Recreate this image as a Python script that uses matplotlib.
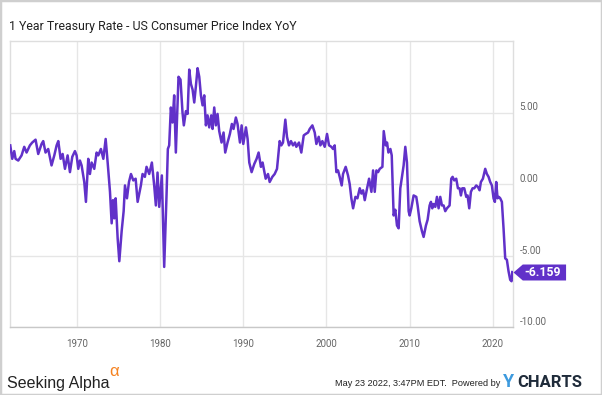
import matplotlib
matplotlib.use("Agg")
import matplotlib.pyplot as plt
from matplotlib.patches import Rectangle

# 1 year treasury rate minus CPI YoY (decimal years)
years = [
    1962.03, 1962.27, 1962.51, 1962.67, 1962.99, 1963.39, 1963.71, 1963.99, 1964.39, 1964.67,
    1965.07, 1965.39, 1965.79, 1965.99, 1966.27, 1966.59, 1966.99, 1967.32, 1967.60, 1967.80,
    1968.08, 1968.32, 1968.60, 1968.92, 1969.20, 1969.48, 1969.80, 1970.00, 1970.20, 1970.40,
    1970.60, 1970.92, 1971.12, 1971.40, 1971.60, 1971.80, 1972.12, 1972.40, 1972.60, 1972.92,
    1973.21, 1973.49, 1973.73, 1974.01, 1974.21, 1974.37, 1974.53, 1974.69, 1974.93, 1975.13,
    1975.41, 1975.65, 1975.81, 1976.05, 1976.29, 1976.53, 1976.81, 1977.09, 1977.33, 1977.72,
    1977.92, 1978.20, 1978.40, 1978.72, 1979.04, 1979.32, 1979.52, 1979.72, 1979.92, 1980.24,
    1980.52, 1980.80, 1980.96, 1981.12, 1981.32, 1981.52, 1981.72, 1981.92, 1982.24, 1982.48,
    1982.72, 1982.88, 1983.13, 1983.33, 1983.53, 1983.73, 1983.93, 1984.13, 1984.33, 1984.53,
    1984.73, 1984.93, 1985.13, 1985.33, 1985.53, 1985.73, 1985.93, 1986.17, 1986.33, 1986.53,
    1986.73, 1986.93, 1987.13, 1987.41, 1987.65, 1987.85, 1988.13, 1988.41, 1988.65, 1988.85,
    1989.13, 1989.33, 1989.62, 1989.82, 1990.02, 1990.34, 1990.54, 1990.74, 1991.02, 1991.34,
    1991.62, 1991.86, 1992.14, 1992.34, 1992.71, 1992.99, 1993.19, 1993.51, 1993.79, 1994.07,
    1994.39, 1994.59, 1994.79, 1995.07, 1995.27, 1995.51, 1995.75, 1995.99, 1996.23, 1996.39,
    1996.71, 1996.99, 1997.28, 1997.52, 1997.80, 1998.00, 1998.32, 1998.60, 1998.80, 1999.08,
    1999.28, 1999.52, 1999.80, 2000.08, 2000.32, 2000.60, 2000.80, 2001.00, 2001.20, 2001.40,
    2001.60, 2001.84, 2002.00, 2002.32, 2002.60, 2002.80, 2003.00, 2003.21, 2003.49, 2003.73,
    2004.01, 2004.21, 2004.41, 2004.61, 2004.89, 2005.13, 2005.41, 2005.61, 2005.81, 2006.01,
    2006.21, 2006.41, 2006.73, 2006.89, 2007.13, 2007.29, 2007.45, 2007.69, 2007.85, 2008.08,
    2008.28, 2008.48, 2008.68, 2008.88, 2009.08, 2009.28, 2009.48, 2009.68, 2009.88, 2010.00,
    2010.20, 2010.48, 2010.80, 2010.96, 2011.20, 2011.48, 2011.68, 2011.96, 2012.16, 2012.40,
    2012.56, 2012.72, 2012.88, 2013.08, 2013.28, 2013.48, 2013.68, 2013.88, 2014.08, 2014.28,
    2014.48, 2014.80, 2015.00, 2015.16, 2015.36, 2015.60, 2015.80, 2016.00, 2016.16, 2016.32,
    2016.56, 2016.80, 2016.96, 2017.16, 2017.36, 2017.56, 2017.76, 2018.00, 2018.20, 2018.40,
    2018.56, 2018.80, 2019.08, 2019.28, 2019.48, 2019.68, 2019.88, 2020.08, 2020.24, 2020.40,
    2020.56, 2020.72, 2020.88, 2021.08, 2021.28, 2021.48, 2021.68, 2021.88, 2022.08, 2022.24,
    2022.33,
]
spread = [
    2.7, 1.76, 2.3, 1.76, 1.64, 2.0, 2.6, 2.2, 2.7, 2.9,
    3.1, 2.1, 2.8, 3.0, 2.2, 2.45, 1.3, 2.0, 2.7, 3.0,
    1.76, 2.1, 1.06, 2.0, 0.83, 1.9, 2.3, 2.0, 1.06, 1.64,
    1.3, 0.14, -1.25, 1.76, 0.7, 1.5, 1.06, 2.2, 2.0, 2.45,
    1.76, 3.15, 1.5, -0.55, -2.75, -1.13, -2.4, -1.0, -3.8, -5.4,
    -3.3, -1.9, -0.1, -1.0, 0.14, 0.7, 0.25, 0.37, -1.25, -0.1,
    0.7, 0.5, 1.2, 0.7, 1.5, -0.1, -1.5, 0.8, -1.6, 0.6,
    -5.8, -0.8, 2.45, 2.7, 5.35, 4.3, 6.2, 2.2, 7.5, 7.3,
    5.0, 4.1, 5.1, 4.9, 8.0, 7.0, 6.6, 5.7, 6.85, 8.1,
    7.5, 6.2, 5.5, 6.2, 4.1, 4.8, 3.96, 4.8, 3.85, 5.35,
    4.1, 4.9, 3.7, 2.9, 3.6, 2.2, 2.9, 3.5, 4.2, 3.85,
    4.65, 4.2, 2.9, 4.1, 2.8, 3.96, 3.15, 1.5, 0.83, 1.4,
    1.76, 2.2, 1.2, 1.5, 0.37, 0.7, 0.14, 0.5, 0.7, 1.06,
    3.0, 2.7, 2.9, 4.5, 3.3, 2.7, 3.0, 2.7, 2.9, 2.6,
    2.9, 2.2, 3.4, 3.5, 3.6, 3.85, 4.1, 3.6, 2.8, 3.3,
    2.7, 3.0, 2.6, 3.5, 2.7, 2.6, 2.45, 2.7, 0.83, 0.95,
    0.5, -0.1, 0.7, 1.2, 0.6, 0.0, -1.0, -1.7, -0.9, -1.0,
    -0.3, -0.67, -0.44, -1.13, -0.3, 0.37, -0.55, 0.95, -0.55, 0.95,
    0.83, 1.06, 1.2, 3.7, 2.7, 2.9, 2.2, 2.45, 2.0, -2.2,
    -1.8, -2.9, -3.1, -0.3, 0.5, 1.3, 2.6, 1.5, -1.9, -2.2,
    -1.7, -0.8, -0.9, -1.5, -2.6, -3.3, -3.7, -2.9, -2.5, -1.5,
    -1.25, -1.7, -1.4, -1.6, -0.9, -1.7, -0.9, -1.5, -1.5, -1.9,
    -1.7, -1.5, 0.37, 0.5, 0.25, 0.37, -0.3, -0.3, -0.8, -0.3,
    -0.3, -0.9, -0.8, -1.7, -0.55, -0.3, -0.3, -0.1, -0.2, -0.44,
    0.14, 0.37, 1.06, 0.7, 0.5, 0.14, -0.1, -1.0, -1.25, 0.14,
    -1.0, -0.9, -1.0, -1.25, -3.1, -5.2, -5.3, -6.1, -6.7, -6.8,
    -6.159,
]

decade_ticks = [1970, 1980, 1990, 2000, 2010, 2020]
value_ticks = [-10, -5, 0, 5]
value_labels = ["-10.00", "-5.00", "0.00", "5.00"]
chart_title = "1 Year Treasury Rate - US Consumer Price Index YoY"
last_label = "-6.159"

purple = "#6131c9"
grey_text = "#666666"

plt.rcParams['font.family'] = ['Roboto', 'DejaVu Sans']

fig = plt.figure(figsize=(6.02, 3.95), dpi=100)
ax = fig.add_axes([10 / 602, 1 - 327 / 395, 502.7 / 602, 286 / 395])

ax.plot(years, spread, color=purple, lw=1.8, solid_joinstyle='round', zorder=3)
ax.set_xlim(1962.0, 2022.38)
ax.set_ylim(-10, 10)

ax.set_xticks(decade_ticks)
ax.set_xticklabels([str(y) for y in decade_ticks])
ax.set_yticks(value_ticks)
ax.set_yticklabels(value_labels)
ax.yaxis.tick_right()
ax.tick_params(axis='both', length=0, labelsize=7, labelcolor=grey_text)
ax.tick_params(axis='x', pad=8.5)
ax.tick_params(axis='y', pad=5)
for lab in ax.get_yticklabels():
    lab.set_va('bottom')

ax.grid(True, color='#e6e6e6', lw=1)
for s in ax.spines.values():
    s.set_color('#dedede')
    s.set_linewidth(1)
ax.spines['bottom'].set_color('#c8c8c8')

# last value flag: arrow + box drawn as one marker at the last point
flag = [(0, 0), (9.3, -8), (52.6, -8), (52.6, 8), (9.3, 8)]
ax.plot([ax.get_xlim()[1]], [spread[-1]], marker=flag, ms=75.7, color=purple,
        mec='none', clip_on=False, zorder=4)
ax.annotate(last_label, xy=(1, spread[-1]), xycoords=('axes fraction', 'data'),
            xytext=(21.5, -0.3), textcoords='offset points', ha='center', va='center',
            color='white', fontsize=8.8, fontweight='bold', annotation_clip=False, zorder=5)

fig.text(9 / 602, 1 - 30 / 395, chart_title, fontsize=8.9, color='#222222', va='baseline')

# footer
fig.text(7 / 602, 1 - 388 / 395, "Seeking Alpha", fontsize=11.5, color='#222222',
         family=['Liberation Sans', 'DejaVu Sans'], va='baseline')
fig.text(109 / 602, 1 - 376 / 395, "\u03b1", fontsize=12, color='#f58220',
         family=['Liberation Sans', 'DejaVu Sans'], va='baseline')
fig.text(500 / 602, 1 - 386 / 395, "May 23 2022, 3:47PM EDT.  Powered by", fontsize=6.6,
         color='#222222', family=['Liberation Sans', 'DejaVu Sans'],
         ha='right', va='baseline')
fig.text(503 / 602, 1 - 387 / 395, "Y", fontsize=13, color='#3d9ade', fontweight='bold',
         va='baseline')
fig.text(517 / 602, 1 - 387 / 395, "CHARTS", fontsize=12, color='#1f2b3a', fontweight='bold',
         va='baseline')

fig.patches.append(Rectangle((0, 0), 1, 1, transform=fig.transFigure, fill=False,
                             ec='#cfcfcf', lw=2.5))

fig.savefig("out.png", dpi=100)
